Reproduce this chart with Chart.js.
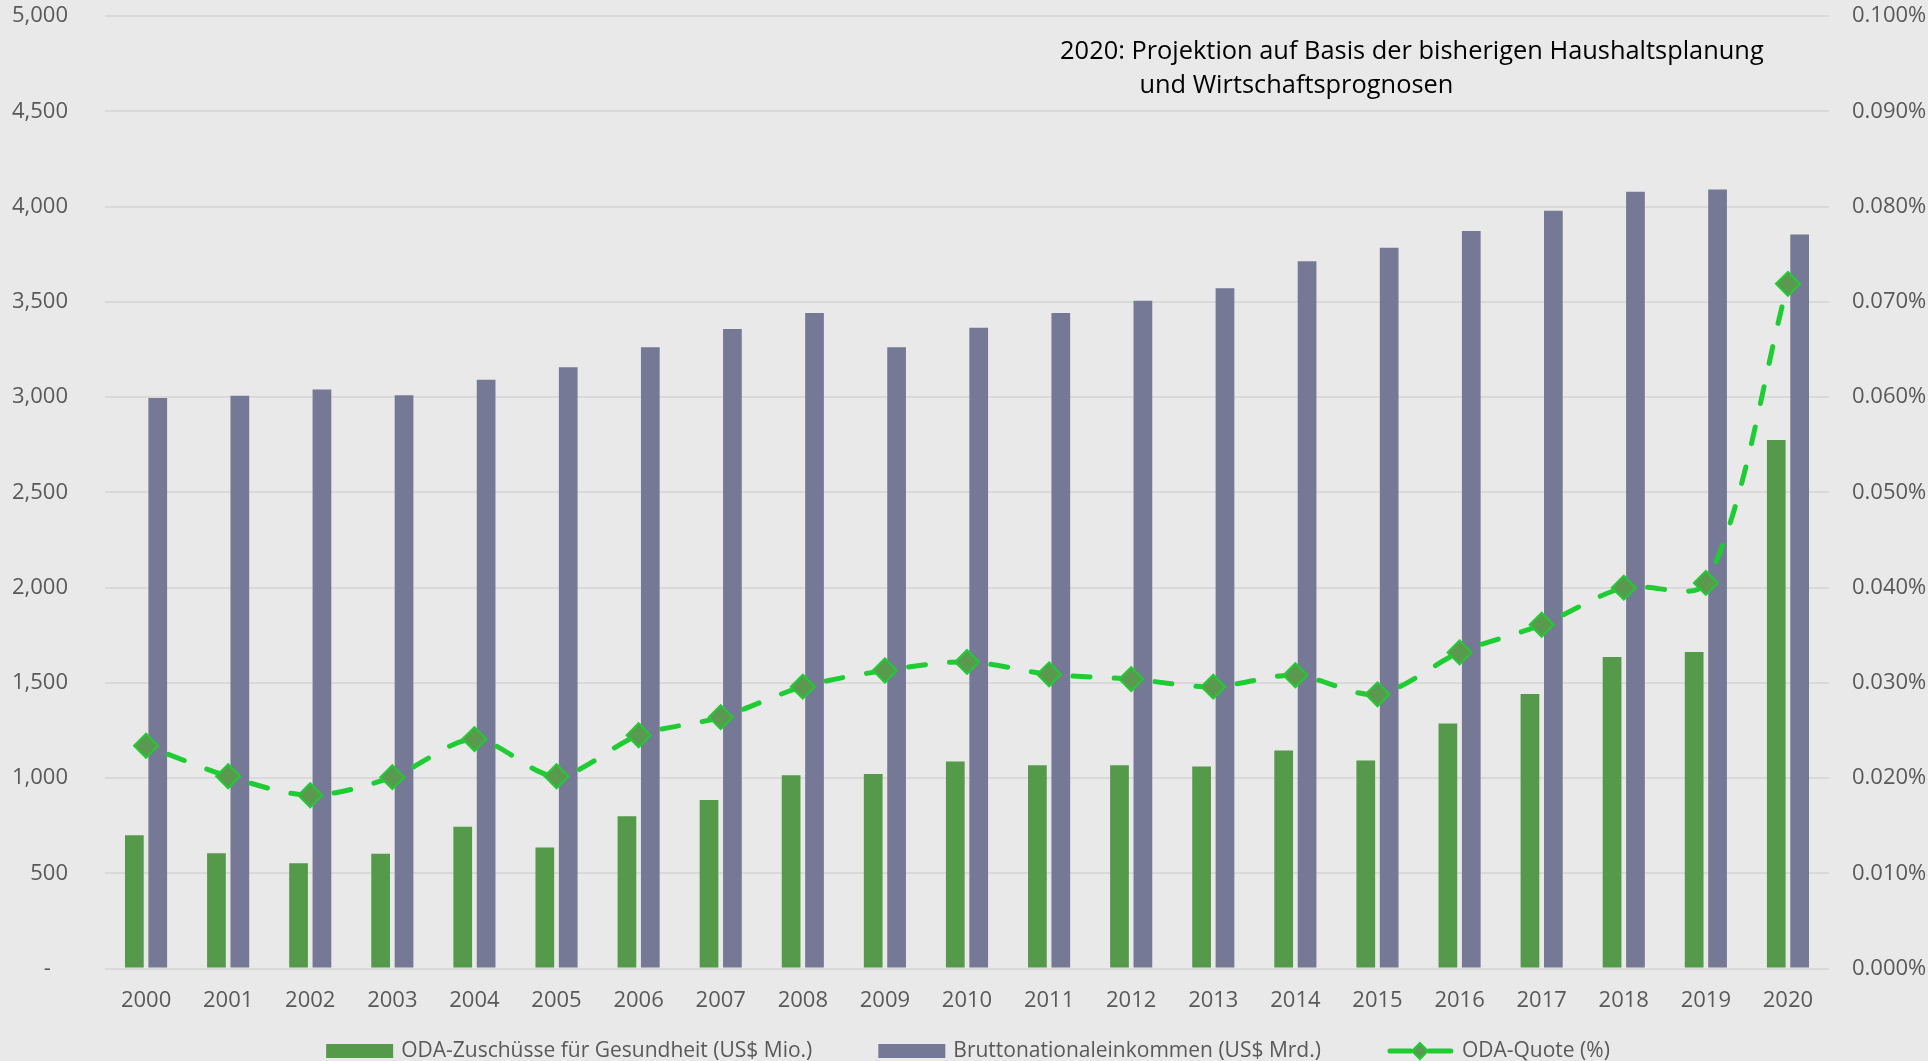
<!DOCTYPE html>
<html>
<head>
<meta charset="utf-8">
<title>ODA Gesundheit</title>
<script src="https://cdn.jsdelivr.net/npm/chart.js@4.4.1/dist/chart.umd.min.js"></script>
<style>
  html, body { margin: 0; padding: 0; background: #e9e9e9; }
  #wrap { width: 1928px; height: 1061px; }
</style>
</head>
<body>
<div id="wrap"><canvas id="chart"></canvas></div>
<script>
const years = ["2000", "2001", "2002", "2003", "2004", "2005", "2006", "2007", "2008", "2009", "2010",
               "2011", "2012", "2013", "2014", "2015", "2016", "2017", "2018", "2019", "2020"];

// ODA-Zuschüsse für Gesundheit, US$ Mio.
const odaHealth = [700, 606, 553, 603, 745, 636, 800, 885, 1015, 1022, 1087,
                   1067, 1067, 1061, 1145, 1093, 1287, 1442, 1636, 1662, 2775];

// Bruttonationaleinkommen, US$ Mrd.
const gni = [2995, 3008, 3040, 3010, 3092, 3157, 3262, 3358, 3442, 3262, 3364,
             3442, 3506, 3572, 3714, 3784, 3872, 3979, 4078, 4090, 3854];

// ODA-Quote in %
const odaQuote = [0.0234, 0.0202, 0.0182, 0.0201, 0.0241, 0.0202, 0.0245, 0.0264, 0.0296, 0.0313, 0.0322,
                  0.0309, 0.0304, 0.0296, 0.0308, 0.0288, 0.0332, 0.0361, 0.0400, 0.0405, 0.0719];

const noteLines = ["2020: Projektion auf Basis der bisherigen Haushaltsplanung", "und Wirtschaftsprognosen"];

const tickFont = { family: "Open Sans", size: 22 };
const textGrey = "#595959";

// legend at the bottom: boxes for the bars, dashed line + diamond for the quota
const bottomLegend = {
  id: "bottomLegend",
  afterDraw(chart) {
    const ctx = chart.ctx;
    const y = chart.height - 10;
    const iconW = 67, gap = 8, spacing = 66;
    ctx.save();
    ctx.font = '21px "Open Sans"';
    ctx.textBaseline = "middle";
    const items = chart.data.datasets.map(ds => ({ ds, w: iconW + gap + ctx.measureText(ds.label).width }));
    const total = items.reduce((s, it) => s + it.w, 0) + spacing * (items.length - 1);
    let x = chart.width / 2 - total / 2 + 4;
    items.forEach(({ ds, w }) => {
      if (ds.type === "line") {
        ctx.strokeStyle = ds.borderColor;
        ctx.lineWidth = 5;
        ctx.lineCap = "round";
        ctx.beginPath();
        ctx.moveTo(x + 3, y); ctx.lineTo(x + 24, y);
        ctx.moveTo(x + 42, y); ctx.lineTo(x + 64, y);
        ctx.stroke();
        const cx = x + 33, r = 8;
        ctx.beginPath();
        ctx.moveTo(cx, y - r); ctx.lineTo(cx + r, y); ctx.lineTo(cx, y + r); ctx.lineTo(cx - r, y);
        ctx.closePath();
        ctx.fillStyle = ds.pointBackgroundColor;
        ctx.fill();
        ctx.lineWidth = 2;
        ctx.strokeStyle = ds.pointBorderColor;
        ctx.stroke();
      } else {
        ctx.fillStyle = ds.backgroundColor;
        ctx.fillRect(x, y - 7, iconW, 14);
      }
      ctx.fillStyle = textGrey;
      ctx.fillText(ds.label, x + iconW + gap, y);
      x += w + spacing;
    });
    ctx.restore();
  }
};

// two-line note in the upper right of the plot
const projectionNote = {
  id: "projectionNote",
  afterDraw(chart) {
    const { ctx, chartArea } = chart;
    const w = chartArea.right - chartArea.left;
    ctx.save();
    ctx.font = '25.4px "Open Sans"';
    ctx.fillStyle = "#000000";
    ctx.textBaseline = "alphabetic";
    ctx.fillText(noteLines[0], chartArea.left + w * 0.554, chartArea.top + 43);
    ctx.fillText(noteLines[1], chartArea.left + w * 0.600, chartArea.top + 77);
    ctx.restore();
  }
};

const chart1 = document.getElementById("chart");
new Chart(chart1, {
  data: {
    labels: years,
    datasets: [{
      type: "bar",
      label: "ODA-Zuschüsse für Gesundheit (US$ Mio.)",
      data: odaHealth,
      backgroundColor: "#55994b",
      yAxisID: "y",
      order: 1,
      categoryPercentage: 0.57,
      barPercentage: 0.8
    }, {
      type: "bar",
      label: "Bruttonationaleinkommen (US$ Mrd.)",
      data: gni,
      backgroundColor: "#767996",
      yAxisID: "y",
      order: 1,
      categoryPercentage: 0.57,
      barPercentage: 0.8
    }, {
      type: "line",
      label: "ODA-Quote (%)",
      data: odaQuote,
      yAxisID: "y1",
      order: 0,
      borderColor: "#1fcc33",
      borderWidth: 5,
      borderDash: [17, 24],
      borderCapStyle: "round",
      // dash pattern starts fresh between every pair of points
      segment: { borderDashOffset: ctx => 17 + ctx.p0DataIndex * 0.001 },
      tension: 0.3,
      fill: false,
      pointStyle: "rectRot",
      pointRadius: 12,
      pointBackgroundColor: "#5a9a4e",
      pointBorderColor: "#1fcc33",
      pointBorderWidth: 2
    }]
  },
  options: {
    responsive: true,
    maintainAspectRatio: false,
    animation: false,
    layout: { padding: { top: 0, bottom: 36, left: 0, right: 0 } },
    plugins: {
      legend: { display: false },
      tooltip: { enabled: false }
    },
    scales: {
      x: {
        grid: { display: false },
        border: { display: false },
        ticks: { color: textGrey, font: tickFont, padding: 11, maxRotation: 0, autoSkip: false }
      },
      y: {
        position: "left",
        min: 0,
        max: 5000,
        grid: { color: "#d9d9d9", lineWidth: 2, tickLength: 34, tickColor: "rgba(0,0,0,0)" },
        border: { display: false },
        ticks: {
          stepSize: 500,
          padding: 3,
          color: textGrey,
          font: tickFont,
          callback: v => v === 0 ? "-   " : v.toLocaleString("en-US")
        },
        afterFit(scale) { scale.width = 105; }
      },
      y1: {
        position: "right",
        min: 0,
        max: 0.1,
        grid: { drawOnChartArea: false, tickLength: 20, tickColor: "rgba(0,0,0,0)" },
        border: { display: false },
        ticks: {
          stepSize: 0.01,
          padding: 3,
          color: textGrey,
          font: tickFont,
          callback: v => v.toFixed(3) + "%"
        },
        afterFit(scale) { scale.width = 99; }
      }
    }
  },
  plugins: [bottomLegend, projectionNote]
});
</script>
</body>
</html>
